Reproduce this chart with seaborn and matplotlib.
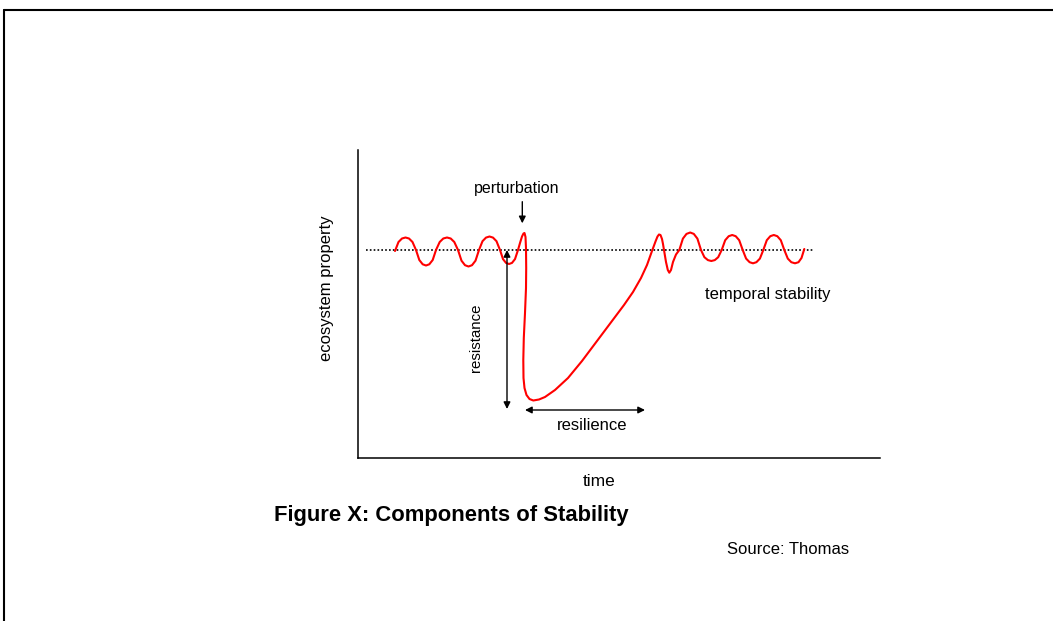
import numpy as np
import pandas as pd
import seaborn as sns
import matplotlib.pyplot as plt
from matplotlib.lines import Line2D

# schematic values (arbitrary units: time 0..522, property 0..308)
pre_time = [37, 40.5, 44, 47.5, 51, 54.5, 58, 61.3, 64.7, 68, 71.3, 74.7, 78,
            81.7, 85.3, 89, 92.7, 96.3, 100, 103.5, 107, 110.5, 114, 117.5, 121,
            124.5, 128, 131.5, 135, 138.5, 142, 145, 148, 151, 154, 157, 160]
pre_prop = [207, 216, 219.5, 220.5, 219.5, 216, 208, 198, 193.7, 192.5, 193.7, 198, 208,
            216, 219.5, 220.5, 219.5, 216, 208, 197.3, 192.8, 191.5, 192.8, 197.3, 208,
            216.8, 220.4, 221.5, 220.4, 216.8, 208, 198.9, 195.1, 194, 195.1, 198.9, 208]

drop_time = [162, 164, 165.5, 166.5, 167.5, 168, 168.2, 168, 167, 165.8, 165.3, 165.5,
             166.5, 168.5, 171.5, 175.3]
drop_prop = [215, 221.5, 224.5, 225, 221, 210, 190, 170, 145, 120, 98, 80,
             70, 63, 59, 57.5]

recovery_time = [181, 187, 197, 210, 224, 239, 254, 266, 275, 283, 289, 294, 297.5, 299.5]
recovery_prop = [58.5, 61, 68, 80, 97, 117, 137, 153, 166, 180, 193, 207, 216.5, 221.5]

post_time = [301, 302.5, 304, 305, 306, 308, 309.8, 311.3, 313, 315, 318, 321.3,
             324.9, 328.5, 332.2, 335.8, 339.4, 343,
             346.4, 349.9, 353.3, 356.8, 360.2, 363.7,
             367.2, 370.7, 374.2, 377.7, 381.2, 384.7,
             388.1, 391.6, 395, 398.4, 401.9, 405.3,
             408.8, 412.3, 415.8, 419.3, 422.8, 426.3,
             429.8, 433.3, 437, 440.5, 443.5, 446.3]
post_prop = [223.5, 223, 219, 214, 208, 196, 188, 185.3, 188, 196, 203.5, 208,
             219.4, 224.1, 225.5, 224.1, 219.4, 208,
             200.8, 197.9, 197, 197.9, 200.8, 208,
             217.8, 221.8, 223, 221.8, 217.8, 208,
             199.4, 195.8, 194.7, 195.8, 199.4, 208,
             217.8, 221.8, 223, 221.8, 217.8, 208,
             199.4, 195.8, 194.7, 195.8, 200, 209]

baseline_time = [8, 455]
baseline_prop = [208, 208]

sns.set_style('white')
plt.rcParams['font.family'] = ['Liberation Sans', 'DejaVu Sans']
plt.rcParams['text.color'] = 'black'
plt.rcParams['axes.labelcolor'] = 'black'

curve = pd.DataFrame({
    'time': pre_time + drop_time + recovery_time + post_time,
    'property': pre_prop + drop_prop + recovery_prop + post_prop,
})

fig = plt.figure(figsize=(10.53, 6.21), dpi=100)
ax = fig.add_axes([358 / 1053, (621 - 458) / 621, 522 / 1053, 308 / 621])

# reference level
ax.plot(baseline_time, baseline_prop, color='black', linestyle=(0, (1, 1.3)), linewidth=1.2)
# ecosystem trajectory
sns.lineplot(data=curve, x='time', y='property', sort=False, estimator=None,
             color='#ff0000', linewidth=1.5, ax=ax)

ax.set_xlim(0, 522)
ax.set_ylim(0, 308)
ax.set_xticks([])
ax.set_yticks([])
sns.despine(ax=ax)
for side in ['left', 'bottom']:
    ax.spines[side].set_color('black')
    ax.spines[side].set_linewidth(1.1)

ax.set_xlabel('time', fontsize=12.5)
ax.xaxis.set_label_coords(241 / 522, -23 / 308)
ax.xaxis.label.set_verticalalignment('center')
ax.set_ylabel('ecosystem property', fontsize=12)
ax.yaxis.set_label_coords(-32 / 522, 170 / 308)
ax.yaxis.label.set_verticalalignment('center')

arrow = dict(arrowstyle='-|>', color='black', lw=1.0, shrinkA=0, shrinkB=0, mutation_scale=10)
arrow2 = dict(arrowstyle='<|-|>', color='black', lw=1.0, shrinkA=0, shrinkB=0, mutation_scale=10)

ax.annotate('', xy=(164.3, 234.7), xytext=(164.3, 256.3), arrowprops=arrow)
ax.text(158.5, 269, 'perturbation', ha='center', va='center', fontsize=11.5)

ax.annotate('', xy=(149, 208), xytext=(149, 49), arrowprops=arrow2)
ax.text(118, 120, 'resistance', ha='center', va='center', rotation=90, fontsize=10.8)

ax.annotate('', xy=(167, 48), xytext=(287, 48), arrowprops=arrow2)
ax.text(234, 33, 'resilience', ha='center', va='center', fontsize=12)

ax.text(410, 163, 'temporal stability', ha='center', va='center', fontsize=12)

fig.text(274 / 1053, 1 - 516 / 621, 'Figure X: Components of Stability',
         ha='left', va='center', fontsize=15.8, fontweight='bold')
fig.text(727 / 1053, 1 - 549 / 621, 'Source: Thomas', ha='left', va='center', fontsize=12)

# page frame
fig.add_artist(Line2D([3.5 / 1053, 1], [1 - 9.5 / 621, 1 - 9.5 / 621],
                      transform=fig.transFigure, color='black', linewidth=1.5))
fig.add_artist(Line2D([3.5 / 1053, 3.5 / 1053], [0, 1 - 9.5 / 621],
                      transform=fig.transFigure, color='black', linewidth=1.5))

fig.savefig('out.png', dpi=100)
